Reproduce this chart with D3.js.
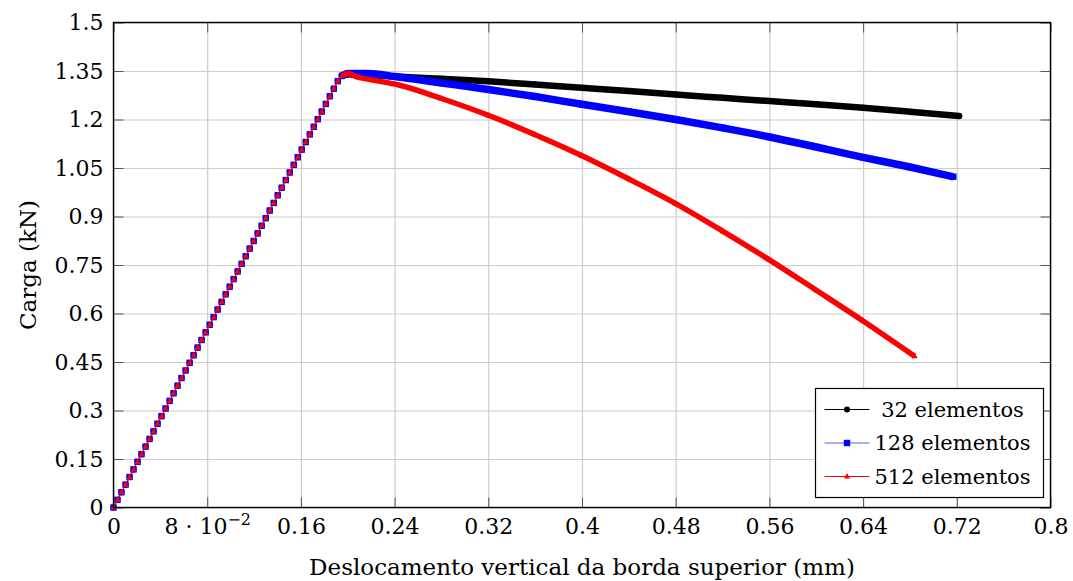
<!DOCTYPE html>
<html>
<head>
<meta charset="utf-8">
<script src="https://cdn.jsdelivr.net/npm/d3@7"></script>
<style>
  body { margin: 0; background: #fff; }
  svg text { font-family: "DejaVu Serif", serif; fill: #000; }
</style>
</head>
<body>
<div class="chart"></div>
<script>
// linear branch (shared by the three meshes)
var preDisp = [0, 0.0034, 0.0068, 0.0103, 0.0137, 0.0171, 0.0205, 0.0239, 0.0274, 0.0308,
  0.0342, 0.0376, 0.0410, 0.0445, 0.0479, 0.0513, 0.0547, 0.0581, 0.0616, 0.0650,
  0.0684, 0.0718, 0.0752, 0.0787, 0.0821, 0.0855, 0.0889, 0.0923, 0.0958, 0.0992,
  0.1026, 0.1060, 0.1094, 0.1129, 0.1163, 0.1197, 0.1231, 0.1265, 0.1300, 0.1334,
  0.1368, 0.1402, 0.1436, 0.1471, 0.1505, 0.1539, 0.1573, 0.1607, 0.1642, 0.1676,
  0.1710, 0.1744, 0.1778, 0.1813, 0.1847, 0.1881, 0.1915];
var preLoad = [0, 0.0236, 0.0471, 0.0707, 0.0942, 0.1178, 0.1413, 0.1649, 0.1884, 0.2120,
  0.2355, 0.2591, 0.2826, 0.3062, 0.3297, 0.3533, 0.3768, 0.4004, 0.4239, 0.4475,
  0.4710, 0.4946, 0.5181, 0.5417, 0.5652, 0.5888, 0.6123, 0.6359, 0.6594, 0.6830,
  0.7065, 0.7301, 0.7536, 0.7772, 0.8007, 0.8243, 0.8478, 0.8714, 0.8949, 0.9185,
  0.9420, 0.9656, 0.9891, 1.0127, 1.0362, 1.0598, 1.0833, 1.1069, 1.1304, 1.1540,
  1.1775, 1.2011, 1.2246, 1.2482, 1.2717, 1.2953, 1.3188];

// peak + softening branch of each mesh
var blackDisp = [0.1950, 0.2003, 0.210, 0.220, 0.240, 0.280, 0.320, 0.360, 0.400, 0.440, 0.480, 0.520, 0.560, 0.600, 0.640, 0.680, 0.722];
var blackLoad = [1.335, 1.340, 1.339, 1.337, 1.333, 1.326, 1.318, 1.308, 1.298, 1.288, 1.277, 1.267, 1.257, 1.247, 1.236, 1.224, 1.211];

var blueDisp = [0.1950, 0.2003, 0.2174, 0.240, 0.280, 0.320, 0.360, 0.400, 0.440, 0.480, 0.520, 0.560, 0.600, 0.640, 0.680, 0.717];
var blueLoad = [1.335, 1.342, 1.342, 1.333, 1.313, 1.293, 1.271, 1.247, 1.224, 1.200, 1.174, 1.146, 1.115, 1.083, 1.053, 1.023];

var redDisp = [0.1950, 0.2003, 0.2075, 0.220, 0.2445, 0.280, 0.320, 0.360, 0.400, 0.440, 0.480, 0.520, 0.560, 0.600, 0.640, 0.684];
var redLoad = [1.335, 1.342, 1.332, 1.323, 1.306, 1.265, 1.213, 1.153, 1.088, 1.016, 0.940, 0.855, 0.766, 0.672, 0.577, 0.468];

var seriesNames = ["32 elementos", "128 elementos", "512 elementos"];

var xTicks = [0, 0.08, 0.16, 0.24, 0.32, 0.4, 0.48, 0.56, 0.64, 0.72, 0.8];
var xTickLabels = ["0", "8·10^−2", "0.16", "0.24", "0.32", "0.4", "0.48", "0.56", "0.64", "0.72", "0.8"];
var yTicks = [0, 0.15, 0.3, 0.45, 0.6, 0.75, 0.9, 1.05, 1.2, 1.35, 1.5];
var yTickLabels = ["0", "0.15", "0.3", "0.45", "0.6", "0.75", "0.9", "1.05", "1.2", "1.35", "1.5"];

var svgWidth = 1073;
var svgHeight = 581;

var margin = { top: 22.5, right: 22.5, bottom: 73.5, left: 113.5 };
var width = svgWidth - margin.left - margin.right;
var height = svgHeight - margin.top - margin.bottom;

var fontFam = '"DejaVu Serif", serif';

var svg = d3.select(".chart")
  .append("svg")
  .attr("width", svgWidth)
  .attr("height", svgHeight);

var chartGroup = svg.append("g")
  .attr("transform", `translate(${margin.left}, ${margin.top})`);

var xScale = d3.scaleLinear().domain([0, 0.8]).range([0, width]);
var yScale = d3.scaleLinear().domain([0, 1.5]).range([height, 0]);

// grid
chartGroup.append("g")
  .attr("transform", `translate(0, ${height})`)
  .call(d3.axisBottom(xScale).tickValues(xTicks).tickSize(-height).tickFormat(""))
  .call(g => g.select(".domain").remove())
  .selectAll("line").attr("stroke", "#cccccc").attr("stroke-width", 1.2);

chartGroup.append("g")
  .call(d3.axisLeft(yScale).tickValues(yTicks).tickSize(-width).tickFormat(""))
  .call(g => g.select(".domain").remove())
  .selectAll("line").attr("stroke", "#cccccc").attr("stroke-width", 1.2);

// series data
function makeSeries(postDisp, postLoad) {
  var pts = preDisp.map((d, i) => ({ x: d, y: preLoad[i] }));
  return pts.concat(postDisp.map((d, i) => ({ x: d, y: postLoad[i] })));
}

var series = [
  { name: seriesNames[0], color: "#000000", lineColor: "#000000", band: 6.5, mark: "circle",
    pts: makeSeries(blackDisp, blackLoad), post: blackDisp.map((d, i) => ({ x: d, y: blackLoad[i] })) },
  { name: seriesNames[1], color: "#0000ff", lineColor: "#5c5cff", band: 7.5, mark: "square",
    pts: makeSeries(blueDisp, blueLoad), post: blueDisp.map((d, i) => ({ x: d, y: blueLoad[i] })) },
  { name: seriesNames[2], color: "#ff0000", lineColor: "#ff0000", band: 5.5, mark: "triangle",
    pts: makeSeries(redDisp, redLoad), post: redDisp.map((d, i) => ({ x: d, y: redLoad[i] })) }
];

var line = d3.line().x(d => xScale(d.x)).y(d => yScale(d.y));
var bandLine = d3.line().curve(d3.curveMonotoneX).x(d => xScale(d.x)).y(d => yScale(d.y));

function drawMark(g, type, color, cx, cy) {
  if (type === "circle") {
    g.append("circle").attr("cx", cx).attr("cy", cy).attr("r", 3).attr("fill", color);
  } else if (type === "square") {
    g.append("rect").attr("x", cx - 3.2).attr("y", cy - 3.2).attr("width", 6.4).attr("height", 6.4)
      .attr("fill", color);
  } else {
    g.append("path")
      .attr("d", `M${cx},${cy - 3.4}L${cx + 3},${cy + 2.1}L${cx - 3},${cy + 2.1}Z`)
      .attr("fill", color);
  }
}

series.forEach(s => {
  var g = chartGroup.append("g");
  g.append("path").datum(s.pts)
    .attr("fill", "none").attr("stroke", s.lineColor).attr("stroke-width", 1)
    .attr("d", line);
  g.append("path").datum(s.post)
    .attr("fill", "none").attr("stroke", s.color).attr("stroke-width", s.band)
    .attr("stroke-linecap", s.mark === "circle" ? "round" : "butt")
    .attr("stroke-linejoin", "round")
    .attr("d", bandLine);
  s.pts.forEach(p => drawMark(g, s.mark, s.color, xScale(p.x), yScale(p.y)));
});

// inward ticks on all sides
var tickColor = "#555555";
chartGroup.append("g")
  .attr("transform", `translate(0, ${height})`)
  .call(d3.axisBottom(xScale).tickValues(xTicks).tickSize(-10).tickPadding(11).tickFormat((d, i) => xTickLabels[i]))
  .call(g => g.select(".domain").remove())
  .call(g => g.selectAll("line").attr("stroke", tickColor))
  .call(g => g.selectAll("text").attr("font-size", 22).attr("font-family", fontFam)
    .each(function(d, i) {
      var lab = xTickLabels[i];
      if (lab.indexOf("^") > -1) {
        var parts = lab.split("^");
        var t = d3.select(this).text(null);
        t.append("tspan").text(parts[0].replace("·", " · "));
        t.append("tspan").attr("font-size", 16).attr("dy", "-0.6em").text(parts[1]);
      }
    }));

chartGroup.append("g")
  .call(d3.axisTop(xScale).tickValues(xTicks).tickSize(-10).tickFormat(""))
  .call(g => g.select(".domain").remove())
  .selectAll("line").attr("stroke", tickColor);

chartGroup.append("g")
  .call(d3.axisLeft(yScale).tickValues(yTicks).tickSize(-10).tickPadding(10).tickFormat((d, i) => yTickLabels[i]))
  .call(g => g.select(".domain").remove())
  .call(g => g.selectAll("line").attr("stroke", tickColor))
  .call(g => g.selectAll("text").attr("font-size", 22).attr("font-family", fontFam));

chartGroup.append("g")
  .attr("transform", `translate(${width}, 0)`)
  .call(d3.axisRight(yScale).tickValues(yTicks).tickSize(-10).tickFormat(""))
  .call(g => g.select(".domain").remove())
  .selectAll("line").attr("stroke", tickColor);

// frame
chartGroup.append("rect")
  .attr("width", width).attr("height", height)
  .attr("fill", "none").attr("stroke", "#000").attr("stroke-width", 1.4);

// axis labels
chartGroup.append("text")
  .attr("x", width / 2)
  .attr("y", height + 67)
  .attr("text-anchor", "middle")
  .attr("font-size", 23)
  .text("Deslocamento vertical da borda superior (mm)");

chartGroup.append("text")
  .attr("transform", "rotate(-90)")
  .attr("x", -height / 2)
  .attr("y", 36 - margin.left)
  .attr("text-anchor", "middle")
  .attr("font-size", 23)
  .text("Carga (kN)");

// legend
var legend = svg.append("g").attr("transform", "translate(815.5, 388.5)");
legend.append("rect").attr("width", 228).attr("height", 109)
  .attr("fill", "#fff").attr("stroke", "#000").attr("stroke-width", 1.2);

series.forEach((s, i) => {
  var ly = 21 + i * 33.5;
  legend.append("line").attr("x1", 9).attr("x2", 54).attr("y1", ly).attr("y2", ly)
    .attr("stroke", s.lineColor).attr("stroke-width", 1.2);
  drawMark(legend, s.mark, s.color, 31.5, ly);
  legend.append("text").attr("x", 137).attr("y", ly).attr("dy", "0.35em")
    .attr("text-anchor", "middle").attr("font-size", 21).text(s.name);
});
</script>
</body>
</html>
